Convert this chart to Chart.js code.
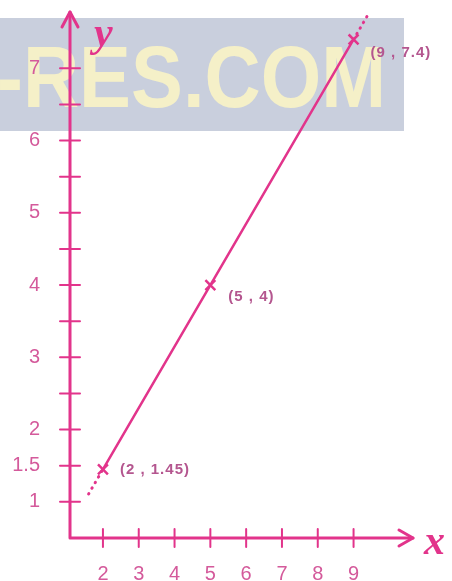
<!DOCTYPE html>
<html>
<head>
<meta charset="utf-8">
<script src="https://cdn.jsdelivr.net/npm/chart.js@4.4.1/dist/chart.umd.min.js"></script>
<style>
  html, body { margin: 0; padding: 0; background: #ffffff; }
  canvas { display: block; }
</style>
</head>
<body>
<canvas id="graph" width="452" height="581"></canvas>
<script>
// titik-titik yang diukur
const xValues = [2, 5, 9];
const yValues = [1.45, 4, 7.4];
const pointLabels = ['(2 , 1.45)', '(5 , 4)', '(9 , 7.4)'];
// perpanjangan garis (titik-titik putus)
const extLow = [[1.6, 1.11], [2, 1.45]];
const extHigh = [[9, 7.4], [9.4, 7.74]];

// tick sumbu
const xTicks = [2, 3, 4, 5, 6, 7, 8, 9];
const xTickLabels = ['2', '3', '4', '5', '6', '7', '8', '9'];
const yTicks = [1, 1.5, 2, 2.5, 3, 3.5, 4, 4.5, 5, 5.5, 6, 6.5, 7];
const yTickLabels = ['1', '1.5', '2', '', '3', '', '4', '', '5', '', '6', '', '7'];

const PINK = '#e2348b';
const LABEL = '#d45a9b';
const NOTE = '#b4568f';
const AREA_TOP = 12;

const toPts = arr => arr.map(p => ({ x: p[0], y: p[1] }));

// latar, pita abu-abu dan tulisan watermark
const backdrop = {
  id: 'backdrop',
  beforeDraw(chart) {
    const c = chart.ctx;
    c.save();
    c.fillStyle = '#ffffff';
    c.fillRect(0, 0, chart.width, chart.height);
    c.fillStyle = '#c9cfdd';
    c.fillRect(0, 18, 404, 113);
    c.font = 'bold 88px "Liberation Sans", Arial, sans-serif';
    const txt = '-RES.COM';
    const w = c.measureText(txt).width;
    c.translate(-3, 107);
    c.scale(389 / w, 1);
    c.fillStyle = '#f5f0c8';
    c.textBaseline = 'alphabetic';
    c.fillText(txt, 0, 0);
    c.restore();
  }
};

// sumbu dengan panah, garis tick, huruf x / y
const axes = {
  id: 'axes',
  beforeDatasetsDraw(chart) {
    const c = chart.ctx;
    const xs = chart.scales.x, ys = chart.scales.y;
    const a = chart.chartArea;
    const ox = a.left, oy = a.bottom;
    c.save();
    c.strokeStyle = PINK;
    c.lineCap = 'round';
    c.lineJoin = 'round';

    c.lineWidth = 3;
    c.beginPath();
    c.moveTo(ox, a.top);
    c.lineTo(ox, oy);
    c.lineTo(a.right, oy);
    c.stroke();

    // kepala panah
    c.beginPath();
    c.moveTo(ox - 8, a.top + 15);
    c.lineTo(ox, a.top);
    c.lineTo(ox + 8, a.top + 15);
    c.moveTo(a.right - 14, oy - 8);
    c.lineTo(a.right, oy);
    c.lineTo(a.right - 14, oy + 8);
    c.stroke();

    c.lineWidth = 2;
    c.beginPath();
    yTicks.forEach(v => {
      const py = ys.getPixelForValue(v);
      c.moveTo(ox - 10, py);
      c.lineTo(ox + 10, py);
    });
    xTicks.forEach(v => {
      const px = xs.getPixelForValue(v);
      c.moveTo(px, oy - 9);
      c.lineTo(px, oy + 9);
    });
    c.stroke();

    c.fillStyle = PINK;
    c.font = 'italic bold 42px "Liberation Serif", serif';
    c.textBaseline = 'alphabetic';
    c.fillText('y', 94, 46);
    c.fillText('x', 424, 554);
    c.restore();
  },
  afterDatasetsDraw(chart) {
    const c = chart.ctx;
    const xs = chart.scales.x, ys = chart.scales.y;
    const offsets = [[17, 0], [18, 12], [17, 13]];
    c.save();
    c.fillStyle = NOTE;
    c.font = 'bold 15px "Liberation Sans", Arial, sans-serif';
    c.letterSpacing = '1px';
    c.textBaseline = 'middle';
    pointLabels.forEach((t, i) => {
      const px = xs.getPixelForValue(xValues[i]);
      const py = ys.getPixelForValue(yValues[i]);
      c.fillText(t, px + offsets[i][0], py + offsets[i][1]);
    });
    c.restore();
  }
};

const chart = new Chart(document.getElementById('graph'), {
  type: 'scatter',
  data: {
    datasets: [
      {
        data: xValues.map((x, i) => ({ x: x, y: yValues[i] })),
        showLine: true,
        borderColor: PINK,
        borderWidth: 2.5,
        pointStyle: 'crossRot',
        pointRadius: 7,
        pointBorderWidth: 2.5,
        pointBorderColor: PINK,
        clip: false
      },
      {
        data: toPts(extLow),
        showLine: true,
        borderColor: PINK,
        borderWidth: 3,
        borderDash: [0.5, 6],
        borderCapStyle: 'round',
        pointRadius: 0,
        clip: false
      },
      {
        data: toPts(extHigh),
        showLine: true,
        borderColor: PINK,
        borderWidth: 3,
        borderDash: [0.5, 6],
        borderCapStyle: 'round',
        pointRadius: 0,
        clip: false
      }
    ]
  },
  options: {
    responsive: false,
    animation: false,
    events: [],
    layout: { autoPadding: false, padding: { top: AREA_TOP, right: 39, left: 0, bottom: 0 } },
    plugins: { legend: { display: false }, tooltip: { enabled: false } },
    scales: {
      x: {
        type: 'linear',
        min: 1.08,
        max: 10.66,
        grid: { display: false, drawTicks: false },
        border: { display: false },
        afterBuildTicks: s => { s.ticks = xTicks.map(v => ({ value: v })); },
        afterFit: s => { s.height = 43; },
        ticks: {
          autoSkip: false,
          maxRotation: 0,
          padding: 24,
          color: LABEL,
          font: { family: '"Liberation Sans", Arial, sans-serif', size: 20 },
          callback: v => xTickLabels[xTicks.indexOf(v)]
        }
      },
      y: {
        type: 'linear',
        min: 0.5,
        max: 7.78,
        grid: { display: false, drawTicks: false },
        border: { display: false },
        afterBuildTicks: s => { s.ticks = yTicks.map(v => ({ value: v })); },
        afterFit: s => { s.width = 70; s.paddingTop = 0; s.paddingBottom = 0; },
        ticks: {
          autoSkip: false,
          padding: 30,
          color: LABEL,
          font: { family: '"Liberation Sans", Arial, sans-serif', size: 20 },
          callback: v => yTickLabels[yTicks.indexOf(v)]
        }
      }
    }
  },
  plugins: [backdrop, axes]
});

// kalau layout masih menambah ruang di atas, kurangi padding-nya
const extra = chart.chartArea.top - AREA_TOP;
if (Math.abs(extra) > 0.5) {
  chart.options.layout.padding.top = AREA_TOP - extra;
  chart.update();
}
</script>
</body>
</html>
